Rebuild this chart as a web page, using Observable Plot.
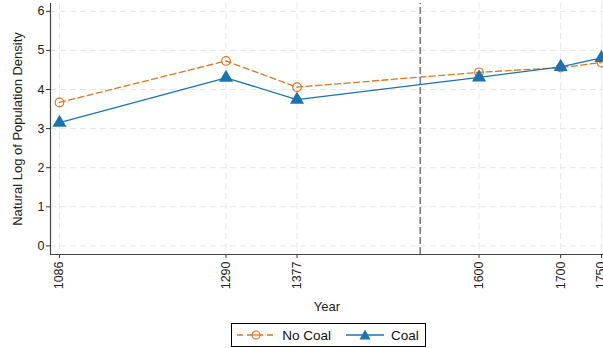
<!DOCTYPE html>
<html>
<head>
<meta charset="utf-8">
<script src="https://cdn.jsdelivr.net/npm/d3@7"></script>
<script src="https://cdn.jsdelivr.net/npm/@observablehq/plot@0.6"></script>
<style>
  html, body { margin: 0; padding: 0; background: #fff; }
  body { width: 603px; height: 348px; overflow: hidden; font-family: "Liberation Sans", Arial, sans-serif; }
  #chart svg { display: block; }
  #legend-wrap { width: 603px; display: flex; justify-content: center; padding-left: 54px; box-sizing: border-box; margin-top: 5px; }
  #legend { border: 1px solid #000; display: flex; align-items: center; height: 22px; padding: 0 6px 0 4px; font-size: 13.5px; color: #111; }
  .item { display: flex; align-items: center; }
  .item svg { display: block; margin-right: 6px; }
</style>
</head>
<body>
<div id="chart"></div>
<div id="legend-wrap"><div id="legend"></div></div>
<script>
const years = [1086, 1290, 1377, 1600, 1700, 1750];
const noCoal = [3.67, 4.73, 4.06, 4.44, 4.56, 4.69];
const coal = [3.15, 4.30, 3.74, 4.31, 4.58, 4.81];
const yTicks = [0, 1, 2, 3, 4, 5, 6];
const breakYear = [1528];
const seriesNames = ["No Coal", "Coal"];
const colors = { "No Coal": "#e07420", "Coal": "#1a74b3" };

const rowsNo = years.map((yr, i) => ({ year: yr, value: noCoal[i], series: "No Coal" }));
const rowsCoal = years.map((yr, i) => ({ year: yr, value: coal[i], series: "Coal" }));

const xDomain = [1075, 1752.5];
const yDomain = [-0.22, 6.2];

const chart = Plot.plot({
  width: 603,
  height: 318,
  marginLeft: 50,
  marginRight: 0,
  marginTop: 3,
  marginBottom: 64,
  style: { fontFamily: "Liberation Sans, Arial, sans-serif", fontSize: "12px", color: "#222", background: "#fff" },
  x: { domain: xDomain, range: [50, 603] },
  y: { domain: yDomain },
  marks: [
    Plot.ruleY(yTicks, { stroke: "#e6e6e6", strokeWidth: 1, strokeDasharray: "6,4" }),
    Plot.ruleX(years, { stroke: "#e6e6e6", strokeWidth: 1, strokeDasharray: "6,4" }),
    Plot.ruleX(breakYear, { y1: yDomain[0], y2: yDomain[1], stroke: "#7a7a7a", strokeWidth: 1.6, strokeDasharray: "7,3" }),
    Plot.axisY({ ticks: yTicks, tickFormat: d => String(d), tickSize: 4, tickPadding: 2, fontSize: 12.5, label: "Natural Log of Population Density", labelAnchor: "center", labelArrow: "none", labelOffset: 38, stroke: "#333" }),
    Plot.axisY({ ticks: [], label: null }),
    Plot.axisX({ ticks: years, tickFormat: d => String(d), tickSize: 4, tickPadding: 3, tickRotate: -90, fontSize: 12.5, label: "Year", labelAnchor: "center", labelArrow: "none", labelOffset: 56, stroke: "#333" }),
    Plot.ruleX([xDomain[0]], { stroke: "#444", strokeWidth: 1.2 }),
    Plot.ruleY([yDomain[0]], { stroke: "#444", strokeWidth: 1.2 }),
    Plot.line(rowsNo, { x: "year", y: "value", stroke: colors["No Coal"], strokeWidth: 1.3, strokeDasharray: "6,3.5" }),
    Plot.dot(rowsNo, { x: "year", y: "value", r: 4.3, stroke: colors["No Coal"], strokeWidth: 1.2, fill: "none" }),
    Plot.line(rowsCoal, { x: "year", y: "value", stroke: colors["Coal"], strokeWidth: 1.3 }),
    Plot.dot(rowsCoal, { x: "year", y: "value", r: 5.2, symbol: "triangle", fill: colors["Coal"], stroke: "none" })
  ]
});
chart.querySelectorAll("text").forEach(t => {
  if (t.textContent === "Natural Log of Population Density") t.setAttribute("font-size", "13");
  if (t.textContent === "Year") t.setAttribute("font-size", "13");
});
document.getElementById("chart").appendChild(chart);

const legend = document.getElementById("legend");
function addItem(name, svgInner, ml) {
  const d = document.createElement("div");
  d.className = "item";
  d.style.marginLeft = ml + "px";
  d.innerHTML = `<svg width="40" height="14" viewBox="0 0 40 14">${svgInner}</svg><span>${name}</span>`;
  legend.appendChild(d);
}
addItem(seriesNames[0],
  `<line x1="1" y1="7" x2="39" y2="7" stroke="${colors["No Coal"]}" stroke-width="1.3" stroke-dasharray="6,4"/><circle cx="20" cy="7" r="4" fill="white" stroke="${colors["No Coal"]}" stroke-width="1.2"/><line x1="16" y1="7" x2="24" y2="7" stroke="${colors["No Coal"]}" stroke-width="1.2"/>`, 0);
addItem(seriesNames[1],
  `<line x1="1" y1="7" x2="39" y2="7" stroke="${colors["Coal"]}" stroke-width="1.3"/><path d="M20,1.5 L25.5,11.5 L14.5,11.5 Z" fill="${colors["Coal"]}"/>`, 14);
</script>
</body>
</html>
